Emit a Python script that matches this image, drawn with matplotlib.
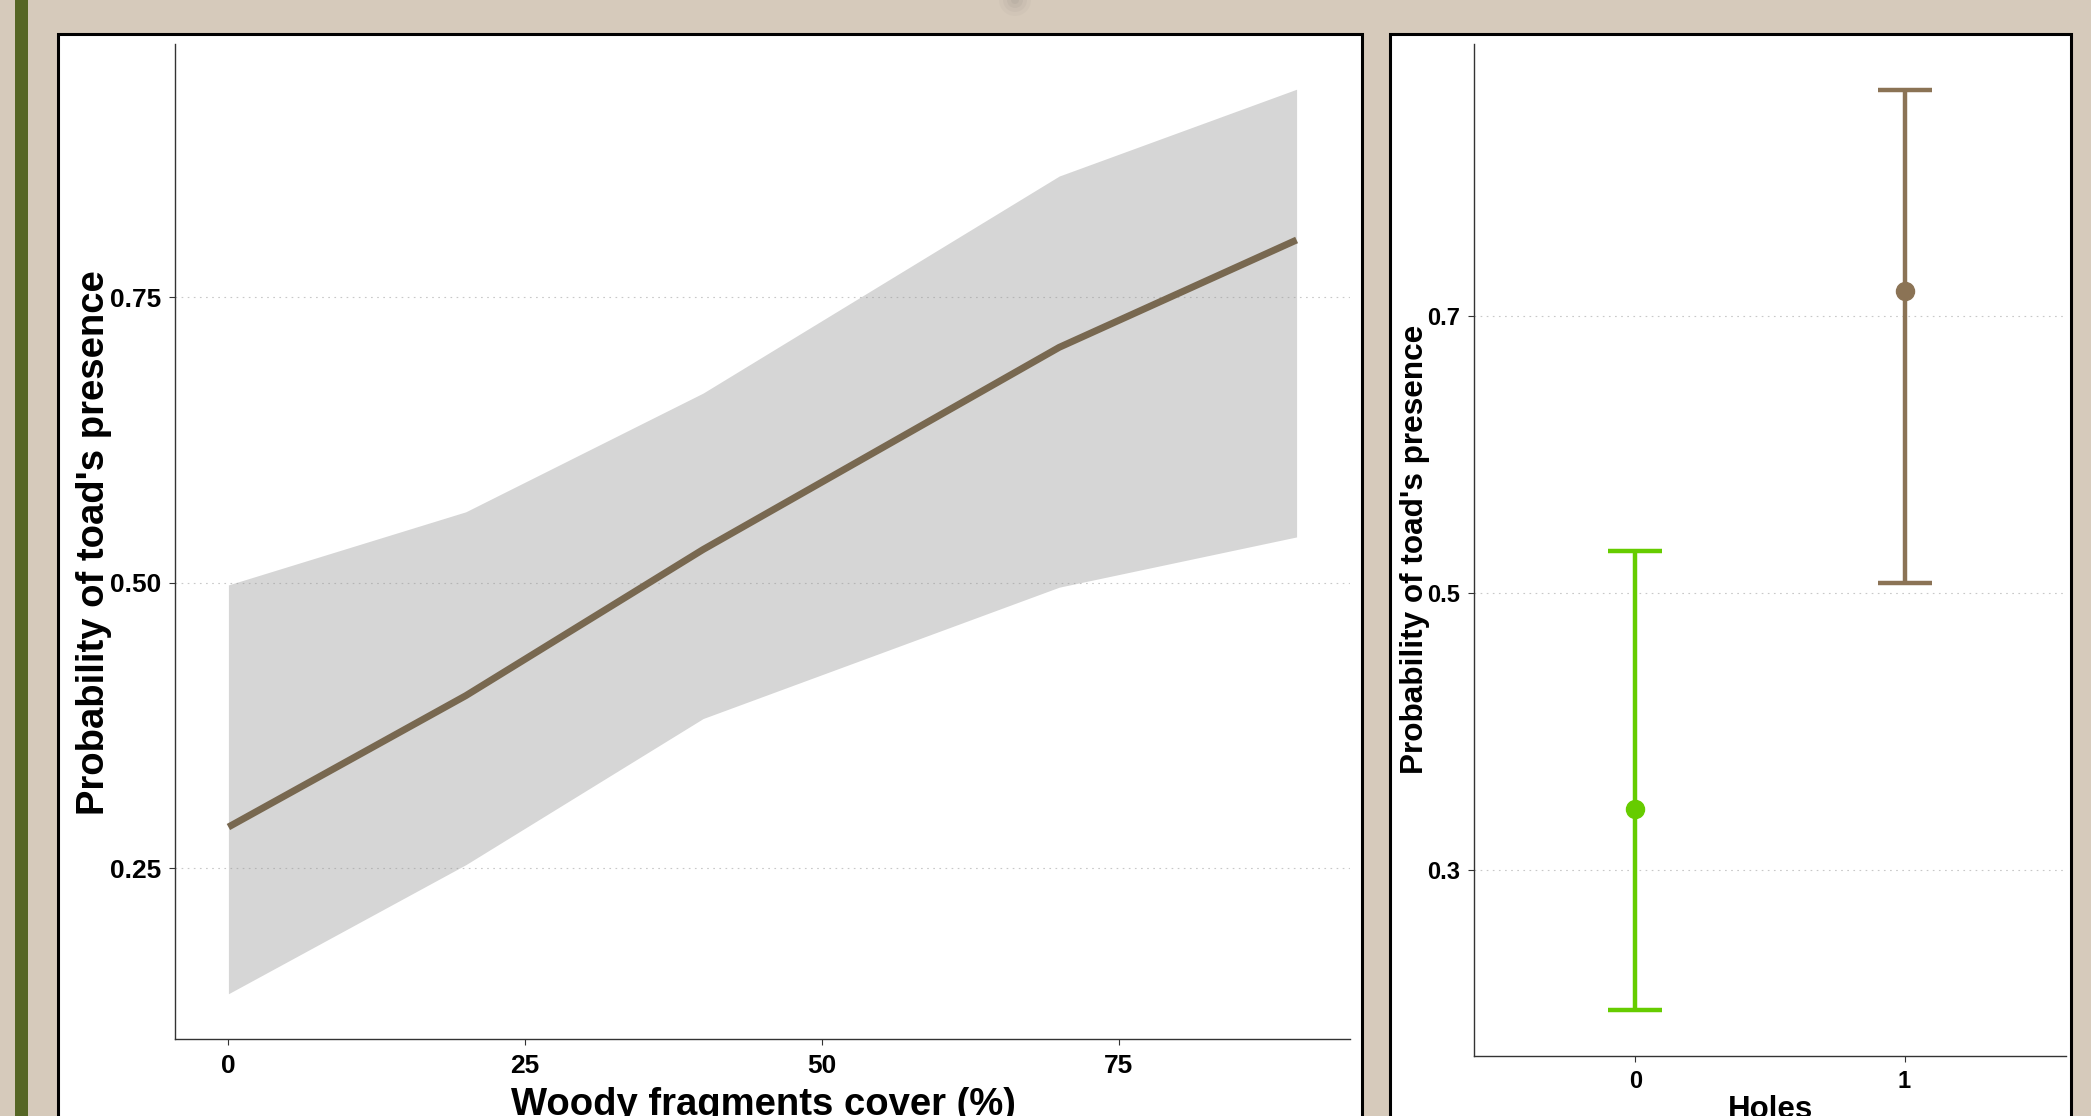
import matplotlib
matplotlib.use("Agg")
import matplotlib.pyplot as plt
from matplotlib.patches import Rectangle, Ellipse
import numpy as np

plt.rcParams['font.family'] = ['Liberation Sans', 'DejaVu Sans']
plt.rcParams['font.weight'] = 'bold'

# ---- data: left panel (fitted probability vs woody fragments cover) ----
cover = [0, 20, 40, 70, 90]
fit = [0.286, 0.401, 0.529, 0.706, 0.800]
lower = [0.140, 0.253, 0.381, 0.496, 0.540]
upper = [0.498, 0.562, 0.666, 0.856, 0.932]
left_xticks = [0, 25, 50, 75]
left_yticks = [0.25, 0.50, 0.75]
left_yticklabels = ["0.25", "0.50", "0.75"]

# ---- data: right panel (holes) ----
holes = ["0", "1"]
hole_prob = [0.344, 0.718]
hole_low = [0.199, 0.507]
hole_high = [0.530, 0.863]
hole_colors = ["#66CC00", "#8B7355"]
right_yticks = [0.3, 0.5, 0.7]
right_yticklabels = ["0.3", "0.5", "0.7"]

W, H = 2091, 1116
fig = plt.figure(figsize=(W / 100, H / 100), dpi=100)
fig.patch.set_facecolor("#D6CABB")

def fx(px):
    return px / W

def fy(py):
    return 1 - py / H

# decorative green stripe
fig.patches.append(Rectangle((fx(15), 0), fx(12.5), 1, transform=fig.transFigure,
                             facecolor="#566625", edgecolor="none", zorder=-3))
# small grey smudge at top
for r, a in [(16, 0.06), (12, 0.08), (8, 0.1), (4, 0.12)]:
    fig.patches.append(Ellipse((fx(1015), fy(0)), fx(2 * r), 2 * r / H,
                               transform=fig.transFigure, facecolor="#8a8580",
                               edgecolor="none", alpha=a, zorder=-3))
# white panels with black border
fig.patches.append(Rectangle((fx(58), -0.05), fx(1362 - 58), fy(34) + 0.05,
                             transform=fig.transFigure, facecolor="white",
                             edgecolor="black", linewidth=2.2, zorder=-2))
fig.patches.append(Rectangle((fx(1390), -0.05), fx(2071 - 1390), fy(34) + 0.05,
                             transform=fig.transFigure, facecolor="white",
                             edgecolor="black", linewidth=2.2, zorder=-2))

def style_axes(ax, tick_fs, xpad, ypad):
    ax.set_facecolor("none")
    for s in ["top", "right"]:
        ax.spines[s].set_visible(False)
    for s in ["left", "bottom"]:
        ax.spines[s].set_color("#333333")
        ax.spines[s].set_linewidth(1.0)
    ax.tick_params(axis="both", colors="#333333", length=4.3, width=0.8,
                   labelsize=tick_fs, labelcolor="black")
    ax.tick_params(axis="x", pad=xpad)
    ax.tick_params(axis="y", pad=ypad)
    for lab in ax.get_xticklabels() + ax.get_yticklabels():
        lab.set_fontweight("bold")
    ax.set_axisbelow(True)
    ax.yaxis.grid(True, color="#c8c8c8", linewidth=0.8, linestyle=(0, (1.5, 4)))
    ax.xaxis.grid(False)

# ---- left axes ----
axL = fig.add_axes([fx(175), fy(1039), fx(1350 - 175), (1039 - 44) / H])
axL.fill_between(cover, lower, upper, color="#999999", alpha=0.4, linewidth=0)
axL.plot(cover, fit, color="#786850", linewidth=5.0, solid_capstyle="butt")
xr = max(cover) - min(cover)
axL.set_xlim(min(cover) - 0.05 * xr, max(cover) + 0.05 * xr)
yr = max(upper) - min(lower)
axL.set_ylim(min(lower) - 0.05 * yr, max(upper) + 0.05 * yr)
axL.set_xticks(left_xticks)
axL.set_xticklabels([str(v) for v in left_xticks])
axL.set_yticks(left_yticks)
axL.set_yticklabels(left_yticklabels)
style_axes(axL, 19, 6.5, 5.5)

# ---- right axes ----
axR = fig.add_axes([fx(1474), fy(1056), fx(2066 - 1474), (1056 - 44) / H])
pos = np.arange(len(holes))
for i in range(len(holes)):
    axR.errorbar([pos[i]], [hole_prob[i]],
                 yerr=[[hole_prob[i] - hole_low[i]], [hole_high[i] - hole_prob[i]]],
                 fmt="o", color=hole_colors[i], markersize=13, elinewidth=3.2,
                 capsize=19.4, capthick=3.2)
axR.set_xlim(-0.6, len(holes) - 1 + 0.6)
yr2 = max(hole_high) - min(hole_low)
axR.set_ylim(min(hole_low) - 0.05 * yr2, max(hole_high) + 0.05 * yr2)
axR.set_xticks(pos)
axR.set_xticklabels(holes)
axR.set_yticks(right_yticks)
axR.set_yticklabels(right_yticklabels)
style_axes(axR, 17, 6, 5.5)

# ---- axis titles ----
fig.text(fx(104), fy(543), "Probability of toad's presence", rotation=90,
         rotation_mode="anchor", ha="center", va="baseline",
         fontsize=27.5, fontweight="bold", color="black")
fig.text(fx(763), fy(1115), "Woody fragments cover (%)", ha="center", va="baseline",
         fontsize=27.5, fontweight="bold", color="black")
fig.text(fx(1423), fy(549), "Probability of toad's presence", rotation=90,
         rotation_mode="anchor", ha="center", va="baseline",
         fontsize=22.7, fontweight="bold", color="black")
fig.text(fx(1770), fy(1118), "Holes", ha="center", va="baseline",
         fontsize=22.5, fontweight="bold", color="black")

fig.savefig("out.png", dpi=100, facecolor=fig.get_facecolor())
